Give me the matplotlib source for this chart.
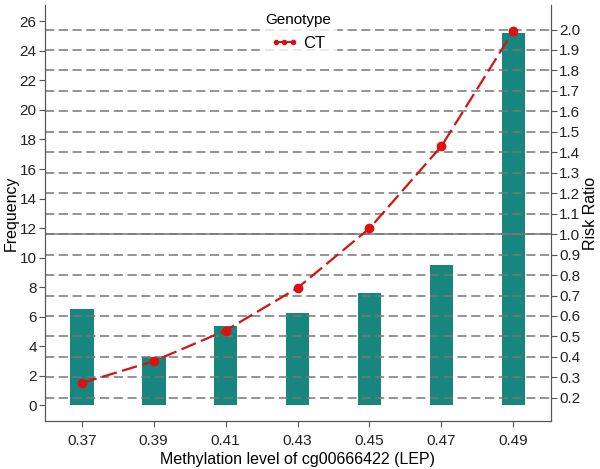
import matplotlib.pyplot as plt
from matplotlib.lines import Line2D
import numpy as np

plt.rcParams['font.family'] = ['Liberation Sans', 'DejaVu Sans']

# data
levels = [0.37, 0.39, 0.41, 0.43, 0.45, 0.47, 0.49]
tick_labels = ['0.37', '0.39', '0.41', '0.43', '0.45', '0.47', '0.49']
frequency = [6.5, 3.3, 5.4, 6.25, 7.6, 9.5, 25.2]
risk_ratio = [0.272, 0.379, 0.529, 0.737, 1.028, 1.43, 1.993]

teal = '#17867f'
red = '#e01010'

fig, ax = plt.subplots(figsize=(6, 4.69), dpi=100)
fig.subplots_adjust(left=0.075, right=0.918, bottom=0.102, top=0.989)
ax2 = ax.twinx()

ax.bar(levels, frequency, width=0.0066, color=teal, zorder=1)
ax.set_xlim(0.3598, 0.5004)
ax.set_ylim(-1.08, 27.1)
ax.set_yticks(np.arange(0, 27, 2))
ax.set_xticks(levels)
ax.set_xticklabels(tick_labels)

ax2.set_ylim(0.086, 2.119)
ax2.set_yticks(np.round(np.arange(0.2, 2.01, 0.1), 1))
ax2.yaxis.grid(True, linestyle=(0, (6, 3)), color='#777777', linewidth=1.1)
ax2.axhline(1.0, color='#777777', linewidth=1.1)
ax2.plot(levels, risk_ratio, color='#d01515', linewidth=1.6,
         linestyle=(0, (7, 2.5)), marker='o', markersize=6,
         markerfacecolor=red, markeredgecolor=red, zorder=3)

for a in (ax, ax2):
    a.spines['top'].set_visible(False)
    for s in a.spines.values():
        s.set_color('#555555')
    a.tick_params(labelsize=11, colors='#222222', length=4, color='#555555', pad=2)
ax.tick_params(axis='x', pad=5)

ax.set_xlabel('Methylation level of cg00666422 (LEP)', fontsize=11.5, labelpad=3)
ax.set_ylabel('Frequency', fontsize=11.5, labelpad=1)
ax2.set_ylabel('Risk Ratio', fontsize=11.5, labelpad=2)

handle = Line2D([], [], color='#d01515', linewidth=1.5, marker='o', markersize=3)
leg = ax2.legend([handle], ['CT'], title='Genotype', loc='upper center',
                 bbox_to_anchor=(0.5, 1.0), frameon=True, fontsize=12,
                 title_fontsize=11, handlelength=1.6, numpoints=3,
                 borderpad=0.3, handletextpad=0.3, borderaxespad=0.2)
leg.get_frame().set_facecolor('white')
leg.get_frame().set_edgecolor('white')
leg.set_zorder(10)

fig.savefig('out.png', dpi=100)
